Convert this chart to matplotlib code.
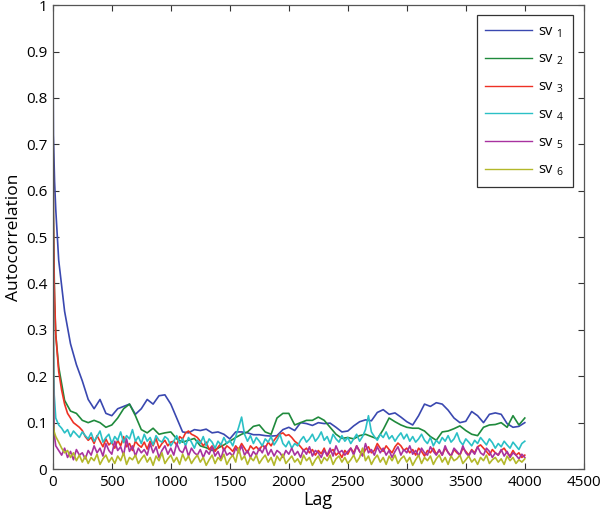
import numpy as np
import matplotlib
matplotlib.use("Agg")
import matplotlib.pyplot as plt

plt.rcParams['font.family'] = ['Open Sans', 'DejaVu Sans']
plt.rcParams['mathtext.default'] = 'regular'

# ---------------- data ----------------
lags_coarse = [0, 5, 15, 25] + list(range(50, 4001, 50))
# blue and green on the coarse grid (0,5,15,25,50,...,4000)
sv1 = [1.0, 0.72, 0.62, 0.56,
       0.45, 0.34, 0.27, 0.225, 0.19, 0.15, 0.13, 0.15, 0.12, 0.115,
       0.13, 0.135, 0.14, 0.118, 0.13, 0.15, 0.14, 0.158, 0.16, 0.14,
       0.11, 0.08, 0.078, 0.085, 0.083, 0.086, 0.078, 0.08, 0.075, 0.065,
       0.08, 0.08, 0.078, 0.074, 0.074, 0.072, 0.071, 0.072, 0.085, 0.09,
       0.083, 0.1, 0.098, 0.094, 0.1, 0.098, 0.099, 0.09, 0.08, 0.082,
       0.093, 0.102, 0.106, 0.104, 0.122, 0.128, 0.118, 0.121, 0.112, 0.102,
       0.095, 0.115, 0.14, 0.135, 0.143, 0.14, 0.127, 0.11, 0.10, 0.103,
       0.124, 0.115, 0.1, 0.118, 0.121, 0.118, 0.098, 0.09, 0.092, 0.1]
sv2 = [1.0, 0.55, 0.36, 0.29,
       0.22, 0.148, 0.125, 0.12, 0.105, 0.10, 0.105, 0.10, 0.09, 0.095,
       0.11, 0.13, 0.14, 0.115, 0.085, 0.078, 0.088, 0.075, 0.078, 0.08,
       0.065, 0.058, 0.062, 0.066, 0.05, 0.046, 0.04, 0.045, 0.052, 0.06,
       0.068, 0.075, 0.08, 0.092, 0.095, 0.08, 0.075, 0.11, 0.12, 0.12,
       0.095, 0.1, 0.105, 0.105, 0.112, 0.105, 0.09, 0.075, 0.066, 0.068,
       0.065, 0.072, 0.075, 0.07, 0.065, 0.085, 0.11, 0.102, 0.095, 0.09,
       0.088, 0.088, 0.082, 0.07, 0.062, 0.08, 0.082, 0.087, 0.093, 0.083,
       0.075, 0.072, 0.09, 0.095, 0.096, 0.1, 0.09, 0.115, 0.095, 0.11]

lags_fine = [0, 5, 12] + list(range(25, 4001, 25))
sv3 = [1.0, 0.55, 0.40,
       0.29, 0.21, 0.17, 0.14, 0.12, 0.11, 0.10, 0.095, 0.09, 0.083,
       0.07, 0.062, 0.068, 0.055, 0.072, 0.06, 0.048, 0.065, 0.052, 0.058,
       0.045, 0.062, 0.05, 0.07, 0.048, 0.055, 0.04, 0.06, 0.052, 0.047,
       0.058, 0.043, 0.06, 0.05, 0.066, 0.045, 0.055, 0.062, 0.05, 0.058,
       0.06, 0.052, 0.07, 0.065, 0.078, 0.082, 0.075, 0.072, 0.068, 0.06,
       0.05, 0.058, 0.042, 0.05, 0.038, 0.047, 0.055, 0.04, 0.05, 0.045,
       0.038, 0.05, 0.042, 0.055, 0.045, 0.035, 0.05, 0.043, 0.048, 0.04,
       0.052, 0.045, 0.058, 0.05, 0.062, 0.07, 0.075, 0.078, 0.072, 0.074,
       0.068, 0.06, 0.055, 0.048, 0.04, 0.045, 0.035, 0.042, 0.03, 0.04,
       0.033, 0.045, 0.028, 0.038, 0.042, 0.03, 0.036, 0.025, 0.04, 0.032,
       0.045, 0.035, 0.05, 0.038, 0.03, 0.042, 0.048, 0.035, 0.04, 0.055,
       0.045, 0.038, 0.05, 0.042, 0.035, 0.048, 0.056, 0.05, 0.04, 0.045,
       0.035, 0.042, 0.03, 0.045, 0.038, 0.028, 0.04, 0.035, 0.045, 0.032,
       0.04, 0.03, 0.045, 0.036, 0.028, 0.042, 0.035, 0.03, 0.045, 0.038,
       0.03, 0.042, 0.035, 0.048, 0.052, 0.045, 0.038, 0.03, 0.042, 0.035,
       0.03, 0.04, 0.045, 0.035, 0.028, 0.04, 0.03, 0.035, 0.025, 0.03]
sv4 = [1.0, 0.30, 0.16,
       0.11, 0.095, 0.088, 0.078, 0.085, 0.07, 0.082, 0.075, 0.068, 0.08,
       0.072, 0.065, 0.078, 0.06, 0.07, 0.082, 0.058, 0.068, 0.075, 0.055,
       0.07, 0.062, 0.08, 0.057, 0.072, 0.065, 0.085, 0.06, 0.07, 0.055,
       0.075, 0.06, 0.068, 0.052, 0.072, 0.062, 0.058, 0.07, 0.065, 0.05,
       0.06, 0.072, 0.055, 0.065, 0.05, 0.068, 0.058, 0.045, 0.062, 0.055,
       0.07, 0.05, 0.065, 0.058, 0.045, 0.06, 0.052, 0.068, 0.055, 0.062,
       0.05, 0.07, 0.09, 0.112, 0.075, 0.06, 0.072, 0.055, 0.068, 0.06,
       0.05, 0.065, 0.058, 0.07, 0.052, 0.062, 0.075, 0.055, 0.048, 0.06,
       0.045, 0.055, 0.05, 0.062, 0.07, 0.058, 0.065, 0.075, 0.06, 0.068,
       0.08, 0.062, 0.07, 0.055, 0.075, 0.065, 0.058, 0.072, 0.06, 0.068,
       0.055, 0.065, 0.075, 0.06, 0.07, 0.085, 0.115, 0.08, 0.07, 0.062,
       0.075, 0.068, 0.08, 0.065, 0.072, 0.06, 0.07, 0.078, 0.065, 0.075,
       0.06, 0.07, 0.058, 0.065, 0.075, 0.062, 0.055, 0.068, 0.05, 0.062,
       0.055, 0.068, 0.06, 0.072, 0.058, 0.065, 0.078, 0.06, 0.052, 0.065,
       0.058, 0.05, 0.062, 0.055, 0.068, 0.06, 0.052, 0.065, 0.057, 0.045,
       0.055, 0.048, 0.06, 0.052, 0.045, 0.058, 0.05, 0.042, 0.055, 0.06]
sv5 = [1.0, 0.20, 0.075,
       0.05, 0.04, 0.03, 0.045, 0.025, 0.038, 0.02, 0.042, 0.03, 0.035,
       0.022, 0.04, 0.03, 0.05, 0.035, 0.045, 0.028, 0.055, 0.04, 0.032,
       0.06, 0.04, 0.048, 0.03, 0.065, 0.038, 0.05, 0.028, 0.045, 0.035,
       0.042, 0.03, 0.055, 0.035, 0.048, 0.025, 0.04, 0.05, 0.032, 0.045,
       0.03, 0.055, 0.04, 0.035, 0.05, 0.028, 0.045, 0.035, 0.03, 0.042,
       0.025, 0.04, 0.032, 0.048, 0.028, 0.038, 0.022, 0.045, 0.03, 0.035,
       0.028, 0.045, 0.035, 0.05, 0.03, 0.04, 0.025, 0.038, 0.03, 0.045,
       0.035, 0.05, 0.03, 0.042, 0.028, 0.04, 0.035, 0.025, 0.04, 0.032,
       0.045, 0.03, 0.038, 0.025, 0.042, 0.032, 0.048, 0.028, 0.04, 0.035,
       0.025, 0.04, 0.03, 0.045, 0.028, 0.05, 0.035, 0.04, 0.03, 0.038,
       0.045, 0.03, 0.05, 0.038, 0.028, 0.055, 0.035, 0.042, 0.03, 0.048,
       0.035, 0.045, 0.03, 0.04, 0.025, 0.038, 0.048, 0.03, 0.042, 0.035,
       0.05, 0.032, 0.04, 0.028, 0.045, 0.035, 0.03, 0.048, 0.038, 0.03,
       0.042, 0.03, 0.05, 0.035, 0.028, 0.045, 0.038, 0.03, 0.05, 0.035,
       0.028, 0.04, 0.032, 0.048, 0.035, 0.03, 0.045, 0.038, 0.025, 0.035,
       0.03, 0.042, 0.028, 0.038, 0.025, 0.035, 0.03, 0.022, 0.032, 0.025]
sv6 = [1.0, 0.10, 0.08,
       0.07, 0.058, 0.045, 0.035, 0.04, 0.025, 0.035, 0.018, 0.03, 0.015,
       0.028, 0.012, 0.025, 0.018, 0.032, 0.01, 0.022, 0.03, 0.015, 0.025,
       0.012, 0.028, 0.018, 0.035, 0.01, 0.025, 0.02, 0.03, 0.012, 0.022,
       0.03, 0.015, 0.025, 0.008, 0.028, 0.018, 0.035, 0.012, 0.022, 0.03,
       0.015, 0.025, 0.01, 0.032, 0.018, 0.028, 0.012, 0.022, 0.03, 0.015,
       0.025, 0.008, 0.02, 0.03, 0.012, 0.025, 0.018, 0.032, 0.01, 0.022,
       0.03, 0.015, 0.045, 0.02, 0.028, 0.01, 0.025, 0.018, 0.03, 0.012,
       0.022, 0.03, 0.015, 0.025, 0.008, 0.028, 0.018, 0.032, 0.012, 0.02,
       0.028, 0.015, 0.022, 0.01, 0.03, 0.018, 0.025, 0.008, 0.02, 0.028,
       0.012, 0.025, 0.018, 0.03, 0.01, 0.022, 0.028, 0.015, 0.025, 0.012,
       0.02, 0.03, 0.015, 0.025, 0.045, 0.018, 0.028, 0.01, 0.022, 0.03,
       0.015, 0.025, 0.01, 0.028, 0.018, 0.03, 0.012, 0.022, 0.028, 0.015,
       0.025, 0.008, 0.02, 0.03, 0.012, 0.025, 0.018, 0.028, 0.01, 0.022,
       0.03, 0.015, 0.025, 0.01, 0.028, 0.018, 0.022, 0.03, 0.012, 0.02,
       0.028, 0.015, 0.022, 0.01, 0.025, 0.018, 0.03, 0.012, 0.02, 0.025,
       0.015, 0.022, 0.01, 0.028, 0.018, 0.025, 0.012, 0.02, 0.015, 0.022]

labels = ['sv $_1$', 'sv $_2$', 'sv $_3$', 'sv $_4$', 'sv $_5$', 'sv $_6$']
colors = ['#3a48b0', '#1f8a3c', '#ee3124', '#2bc0c6', '#a8329f', '#b3b82a']
x_ticks = [0, 500, 1000, 1500, 2000, 2500, 3000, 3500, 4000, 4500]
y_ticks = [0, 0.1, 0.2, 0.3, 0.4, 0.5, 0.6, 0.7, 0.8, 0.9, 1]
y_tick_labels = ['0', '0.1', '0.2', '0.3', '0.4', '0.5', '0.6', '0.7', '0.8', '0.9', '1']

# ---------------- plot ----------------
fig = plt.figure(figsize=(6.0, 5.16), dpi=100)
ax = fig.add_axes([0.088, 0.091, 0.885, 0.899])

series = [(lags_coarse, sv1), (lags_coarse, sv2), (lags_fine, sv3),
          (lags_fine, sv4), (lags_fine, sv5), (lags_fine, sv6)]
for (lx, ly), lab, c in zip(series, labels, colors):
    ax.plot(lx, ly, color=c, lw=1.2, label=lab)

ax.set_xlim(0, 4500)
ax.set_ylim(0, 1)
ax.set_xticks(x_ticks)
ax.set_yticks(y_ticks)
ax.set_yticklabels(y_tick_labels)
ax.tick_params(direction='in', top=True, right=True, length=4, width=0.8,
               labelsize=11, colors='#333333', labelcolor='black', pad=4)
for s in ax.spines.values():
    s.set_color('#555555')
    s.set_linewidth(0.9)
ax.set_xlabel('Lag', fontsize=13, labelpad=1)
ax.set_ylabel('Autocorrelation', fontsize=12.5, labelpad=3)

leg = ax.legend(loc='upper right', bbox_to_anchor=(0.979, 0.978), fontsize=10.5,
                handlelength=3.2, handletextpad=0.4, labelspacing=0.85,
                borderpad=0.6, fancybox=False, framealpha=1, edgecolor='#333333',
                borderaxespad=0)
leg.get_frame().set_linewidth(0.9)
for line in leg.get_lines():
    line.set_linewidth(1.0)

fig.savefig('out.png', dpi=100)
